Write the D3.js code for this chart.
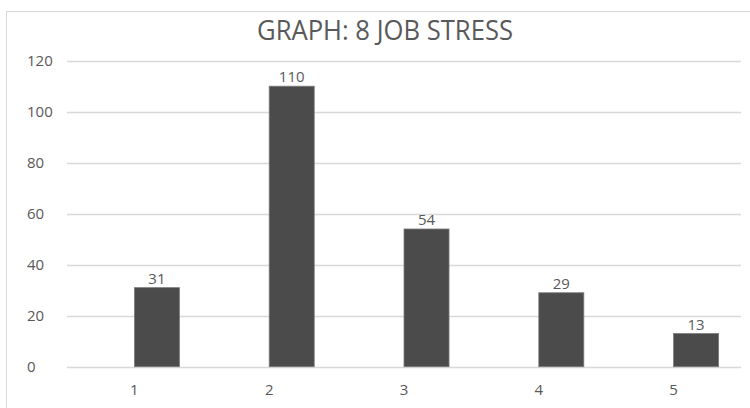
<!DOCTYPE html>
<html>
<head>
<meta charset="utf-8">
<script src="https://cdn.jsdelivr.net/npm/d3@7"></script>
<style>
  html, body { margin: 0; padding: 0; background: #fff; }
  svg { display: block; }
  text { font-family: "Open Sans", "Liberation Sans", sans-serif; fill: #595959; }
</style>
</head>
<body>
<svg id="chart" width="750" height="408"></svg>
<script>
// Job stress responses per rating level
const categories = ["1", "2", "3", "4", "5"];
const values = [31, 110, 54, 29, 13];
const yTicks = [0, 20, 40, 60, 80, 100, 120];
const title = "GRAPH: 8 JOB STRESS";

const svg = d3.select("#chart");
const W = 750, H = 408;
const plot = { left: 67, right: 741, top: 60.7, bottom: 366.7 };

// outer chart frame
svg.append("rect")
  .attr("x", 6.5).attr("y", 11.5)
  .attr("width", W).attr("height", H)
  .attr("fill", "#fff").attr("stroke", "#d9d9d9");

const x = d3.scaleBand().domain(categories).range([plot.left, plot.right]).paddingInner(0).paddingOuter(0);
const y = d3.scaleLinear().domain([0, 120]).range([plot.bottom, plot.top]);

// title
svg.append("text")
  .attr("x", 385).attr("y", 39.5)
  .attr("text-anchor", "middle")
  .attr("font-size", 27)
  .attr("textLength", 256)
  .attr("lengthAdjust", "spacingAndGlyphs")
  .text(title);

// horizontal gridlines
svg.append("g").selectAll("line").data(yTicks).join("line")
  .attr("x1", plot.left).attr("x2", plot.right)
  .attr("y1", d => Math.round(y(d)) + 0.5).attr("y2", d => Math.round(y(d)) + 0.5)
  .attr("stroke", "#d9d9d9").attr("stroke-width", 1.5);

// y tick labels
svg.append("g").selectAll("text").data(yTicks).join("text")
  .attr("x", 27).attr("y", d => y(d) + 5.5)
  .attr("font-size", 15)
  .attr("text-anchor", "start")
  .text(d => d);

// bars: drawn from the category centre to the right
const barW = x.bandwidth() * 0.334;
svg.append("g").selectAll("rect").data(values).join("rect")
  .attr("x", (d, i) => x(categories[i]) + x.bandwidth() / 2)
  .attr("y", d => y(d))
  .attr("width", barW)
  .attr("height", d => y(0) - y(d))
  .attr("fill", "#4b4b4b")
  .attr("stroke", "#7a7a7a").attr("stroke-width", 0.8);

// value labels
svg.append("g").selectAll("text").data(values).join("text")
  .attr("x", (d, i) => x(categories[i]) + x.bandwidth() / 2 + barW / 2)
  .attr("y", d => y(d) - 4)
  .attr("text-anchor", "middle")
  .attr("font-size", 15)
  .attr("fill", "#404040")
  .text(d => d);

// category labels
svg.append("g").selectAll("text").data(categories).join("text")
  .attr("x", d => x(d) + x.bandwidth() / 2)
  .attr("y", 395)
  .attr("text-anchor", "middle")
  .attr("font-size", 15)
  .text(d => d);
</script>
</body>
</html>
